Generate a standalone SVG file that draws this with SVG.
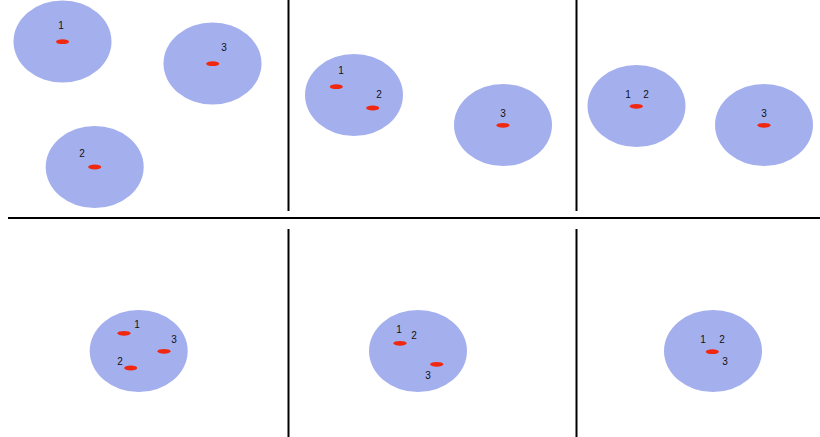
<svg xmlns="http://www.w3.org/2000/svg" width="820" height="437" viewBox="0 0 820 437">
<style>
.c{fill:#a4afee}
.d{fill:#f02810}
.t{font-family:"Liberation Sans","DejaVu Sans",sans-serif;font-size:10px;fill:#111;text-anchor:middle}
.l{stroke:#000;stroke-width:2;fill:none}
</style>
<rect width="820" height="437" fill="#fff"/>
<g id="dividers">
<line class="l" x1="8" y1="218" x2="820" y2="218"/>
<line class="l" x1="288.5" y1="0" x2="288.5" y2="211"/>
<line class="l" x1="576.5" y1="0" x2="576.5" y2="211"/>
<line class="l" x1="288.5" y1="229" x2="288.5" y2="437"/>
<line class="l" x1="576.5" y1="229" x2="576.5" y2="437"/>
</g>
<g id="panel1">
<g id="p1c1"><ellipse class="c" cx="62.5" cy="41.5" rx="49" ry="41"/><ellipse class="d" cx="62.5" cy="41.7" rx="6.5" ry="2.4"/><text class="t" x="61" y="29">1</text></g>
<g id="p1c3"><ellipse class="c" cx="212.5" cy="63.5" rx="49" ry="41"/><ellipse class="d" cx="212.7" cy="63.7" rx="6.5" ry="2.4"/><text class="t" x="224" y="51">3</text></g>
<g id="p1c2"><ellipse class="c" cx="94.7" cy="167" rx="49" ry="41"/><ellipse class="d" cx="94.7" cy="167" rx="6.5" ry="2.4"/><text class="t" x="82" y="157">2</text></g>
</g>
<g id="panel2">
<g id="p2c12"><ellipse class="c" cx="354" cy="95" rx="49" ry="41"/><ellipse class="d" cx="336.3" cy="86.7" rx="6.5" ry="2.4"/><ellipse class="d" cx="372.7" cy="108" rx="6.5" ry="2.4"/><text class="t" x="341" y="74">1</text><text class="t" x="379" y="98">2</text></g>
<g id="p2c3"><ellipse class="c" cx="503" cy="125" rx="49" ry="41"/><ellipse class="d" cx="503" cy="125.3" rx="6.5" ry="2.4"/><text class="t" x="503" y="117">3</text></g>
</g>
<g id="panel3">
<g id="p3c12"><ellipse class="c" cx="636.5" cy="106" rx="49" ry="41"/><ellipse class="d" cx="636.3" cy="106.3" rx="6.5" ry="2.4"/><text class="t" x="628" y="98">1</text><text class="t" x="646" y="98">2</text></g>
<g id="p3c3"><ellipse class="c" cx="764" cy="125" rx="49" ry="41"/><ellipse class="d" cx="764" cy="125.3" rx="6.5" ry="2.4"/><text class="t" x="764" y="117">3</text></g>
</g>
<g id="panel4">
<ellipse class="c" cx="138.7" cy="351" rx="49" ry="41"/>
<ellipse class="d" cx="124" cy="333.3" rx="6.5" ry="2.4"/>
<ellipse class="d" cx="164" cy="351.3" rx="6.5" ry="2.4"/>
<ellipse class="d" cx="130.7" cy="368" rx="6.5" ry="2.4"/>
<text class="t" x="137" y="328">1</text><text class="t" x="174" y="343">3</text><text class="t" x="120" y="365">2</text>
</g>
<g id="panel5">
<ellipse class="c" cx="418" cy="351" rx="49" ry="41"/>
<ellipse class="d" cx="400" cy="343.3" rx="6.5" ry="2.4"/>
<ellipse class="d" cx="436.7" cy="364.3" rx="6.5" ry="2.4"/>
<text class="t" x="399" y="333">1</text><text class="t" x="414" y="339">2</text><text class="t" x="428" y="379">3</text>
</g>
<g id="panel6">
<ellipse class="c" cx="713" cy="351" rx="49" ry="41"/>
<ellipse class="d" cx="712.3" cy="351.7" rx="6.5" ry="2.4"/>
<text class="t" x="703" y="343">1</text><text class="t" x="722" y="343">2</text><text class="t" x="725" y="365">3</text>
</g>
</svg>
